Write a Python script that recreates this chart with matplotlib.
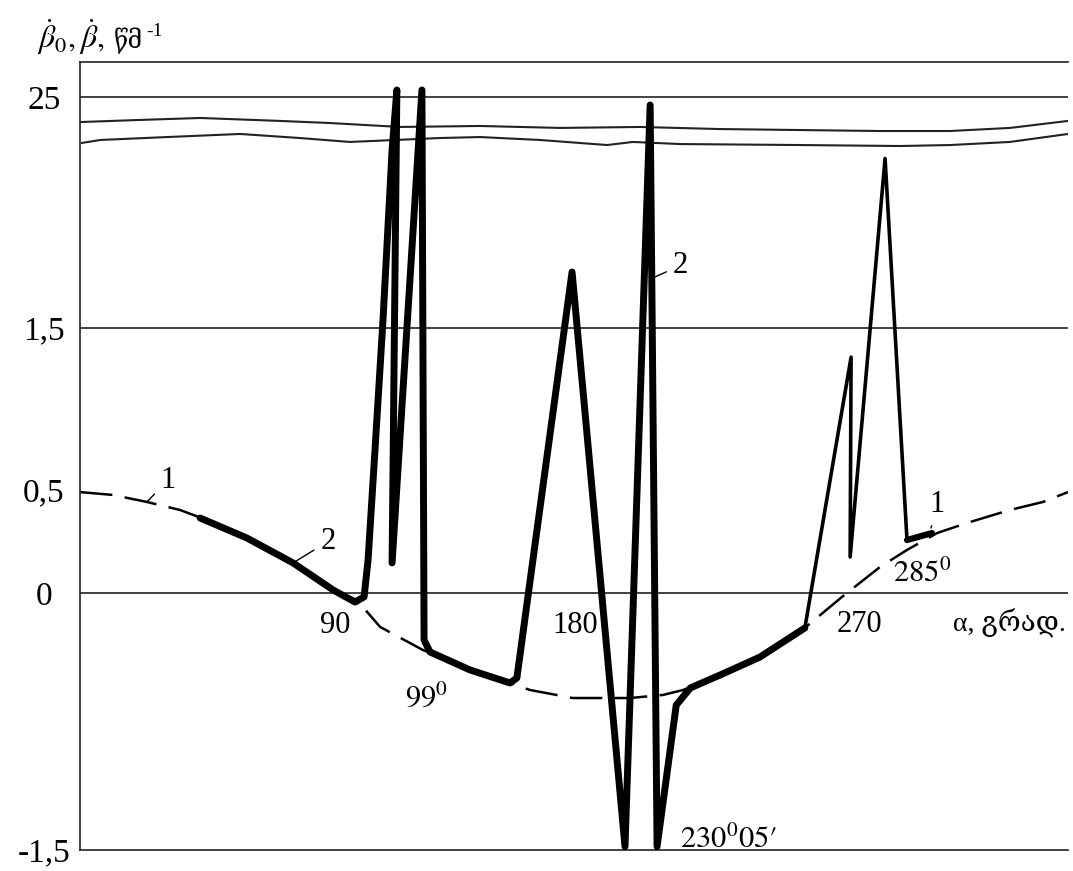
import matplotlib.pyplot as plt
import numpy as np

plt.rcParams['font.family'] = ['Liberation Serif', 'DejaVu Serif', 'DejaVu Sans']
plt.rcParams['mathtext.fontset'] = 'stix'

# curve 1 (dashed)
alpha_1 = [0, 11.6, 23.6, 35.3, 44.8, 58.9, 75.2, 89.3, 98.2, 106.9, 123.0, 140.6,
           155.6, 163.1, 179.2, 197.5, 208.0, 214.4, 226.1, 238.8, 251.5, 264.9,
           279.4, 291.0, 303.9, 316.7, 335.1, 349.3, 360]
beta_1 = [0.49, 0.476, 0.442, 0.403, 0.354, 0.267, 0.146, 0.015, -0.041, -0.198,
          -0.333, -0.438, -0.525, -0.566, -0.613, -0.613, -0.595, -0.566, -0.479,
          -0.374, -0.228, -0.023, 0.126, 0.209, 0.291, 0.340, 0.403, 0.442, 0.49]

# curve 2 (thick part)
alpha_2 = [42.4, 58.9, 75.2, 89.3, 97.5, 100.9, 102.4, 105.0, 108.0, 111.4, 113.2,
           111.4, 116.2, 122.6, 123.4, 125.6, 140.6, 155.6, 158.2, 178.9, 195.9,
           203.9, 206.1, 212.2, 216.7, 226.1, 238.8, 253.1]
beta_2 = [0.364, 0.267, 0.146, 0.015, -0.053, -0.023, 0.160, 0.747, 1.549, 2.58,
          25.35, 0.146, 1.30, 25.35, -0.274, -0.344, -0.449, -0.525, -0.496, 1.84,
          -1.48, 24.6, -1.48, -0.654, -0.554, -0.479, -0.374, -0.204]
# curve 2, thin part near 270-285
alpha_2b = [253.1, 267.8, 267.5, 281.6, 291.0]
beta_2b = [-0.204, 1.32, 0.175, 2.53, 0.257]
alpha_2c = [291.0, 301.7]
beta_2c = [0.257, 0.291]

# break marks (wavy lines)
brk_up_alpha = [0, 21.2, 42.4, 70.6, 88.2, 114.4, 144.4, 174.4, 200.7, 226.1, 251.6,
                279.4, 309.4, 335.1, 360]
brk_up_beta = [20.4, 21.9, 23.3, 21.2, 19.7, 16.9, 17.6, 16.2, 16.9, 15.4, 14.7,
               14.0, 14.0, 16.2, 21.2]
brk_lo_alpha = [0.7, 7.1, 30.7, 56.5, 77.6, 95.6, 129.4, 144.4, 166.9, 190.2, 198.4,
                213.4, 251.6, 288, 309.4, 335.1, 360]
brk_lo_beta = [5.5, 7.6, 9.7, 11.9, 9.0, 6.2, 9.0, 9.7, 7.6, 4.0, 6.2, 4.7, 4.0,
               3.3, 4.0, 6.2, 11.9]

grid_vals = [25, 1.5, 0]
ytick_vals = [-1.5, 0, 0.5, 1.5, 25]
ytick_labels = ['-1,5', '0', '0,5', '1,5', '25']

# hand drawn axes -> piecewise scales
x_nodes = [-1000, 0, 90, 180, 270, 360, 1360]
x_px = [80 - 1000 * 2.833, 80, 335, 575, 858, 1068, 1068 + 1000 * 2.333]
y_nodes = [-100, -1.5, 0, 0.5, 1.5, 2.6, 24, 25, 26.75, 100]
y_px = [-98.5 * 171.3, 0, 257, 360, 522, 703, 733, 753, 788, 788 + 73.25 * 20]


def fx(v):
    return np.interp(v, x_nodes, x_px)


def ifx(p):
    return np.interp(p, x_px, x_nodes)


def fy(v):
    return np.interp(v, y_nodes, y_px)


def ify(p):
    return np.interp(p, y_px, y_nodes)


fig = plt.figure(figsize=(10.73, 8.71), dpi=100)
ax = fig.add_axes([80 / 1073, 21 / 871, 988 / 1073, 788 / 871])
ax.set_xscale('function', functions=(fx, ifx))
ax.set_yscale('function', functions=(fy, ify))
ax.set_xlim(0, 360)
ax.set_ylim(-1.5, 26.75)

for g in grid_vals:
    ax.axhline(g, color='#222222', lw=1.2, zorder=1)

ax.plot(brk_up_alpha, brk_up_beta, color='#222222', lw=1.5, zorder=1)
ax.plot(brk_lo_alpha, brk_lo_beta, color='#222222', lw=1.5, zorder=1)

ax.plot(alpha_1, beta_1, color='black', lw=1.8, dashes=(13, 5), zorder=2)
ax.plot(alpha_2, beta_2, color='black', lw=5, solid_joinstyle='round',
        solid_capstyle='round', zorder=3)
ax.plot(alpha_2b, beta_2b, color='black', lw=2.6, solid_joinstyle='round',
        solid_capstyle='round', zorder=3)
ax.plot(alpha_2c, beta_2c, color='black', lw=4.5, solid_capstyle='round', zorder=3)

for s in ['top', 'left', 'bottom']:
    ax.spines[s].set_linewidth(1.2)
    ax.spines[s].set_color('#222222')
ax.spines['right'].set_visible(False)

ax.set_xticks([])
ax.set_yticks(ytick_vals)
ax.set_yticklabels(ytick_labels, fontsize=24)
ax.tick_params(axis='y', length=0, pad=26)
for lab in ax.get_yticklabels():
    lab.set_horizontalalignment('center')

fs = 22
lead = dict(arrowstyle='-', color='black', lw=1.0, shrinkA=3, shrinkB=0)
ax.annotate('1', xy=(23.6, 0.442), xytext=(31, 0.56), fontsize=fs,
            ha='center', va='center', arrowprops=lead)
ax.annotate('2', xy=(75.2, 0.146), xytext=(87.5, 0.25), fontsize=fs,
            ha='center', va='center', arrowprops=lead)
ax.annotate('2', xy=(205.4, 1.81), xytext=(213.6, 1.88), fontsize=fs,
            ha='center', va='center', arrowprops=lead)
ax.annotate('1', xy=(301.3, 0.315), xytext=(303.9, 0.43), fontsize=fs,
            ha='center', va='center', arrowprops=lead)

ax.text(90, -0.233, '90', fontsize=fs, ha='center', va='baseline')
ax.text(180, -0.233, '180', fontsize=fs, ha='center', va='baseline')
ax.text(270.5, -0.228, '270', fontsize=fs, ha='center', va='baseline')
ax.text(359, -0.22, 'α, გრად.', fontsize=20, ha='right', va='baseline')
ax.text(124.5, -0.66, r'$99^{0}$', fontsize=fs, ha='center', va='baseline')
ax.text(285, 0.053, r'$285^{0}$', fontsize=fs, ha='left', va='baseline')
ax.text(213.4, -1.49, r'$230^{0}05\prime$', fontsize=fs, ha='left', va='baseline')

# y axis title
fig.text(37 / 1073, 1 - 48 / 871, r'$\dot{\beta}_0,\dot{\beta},$', fontsize=23,
         ha='left', va='baseline')
fig.text(114 / 1073, 1 - 48 / 871, 'წმ', fontsize=18, ha='left', va='baseline')
fig.text(146 / 1073, 1 - 36 / 871, '-1', fontsize=14, ha='left', va='baseline')

fig.savefig('out.png', dpi=100)
